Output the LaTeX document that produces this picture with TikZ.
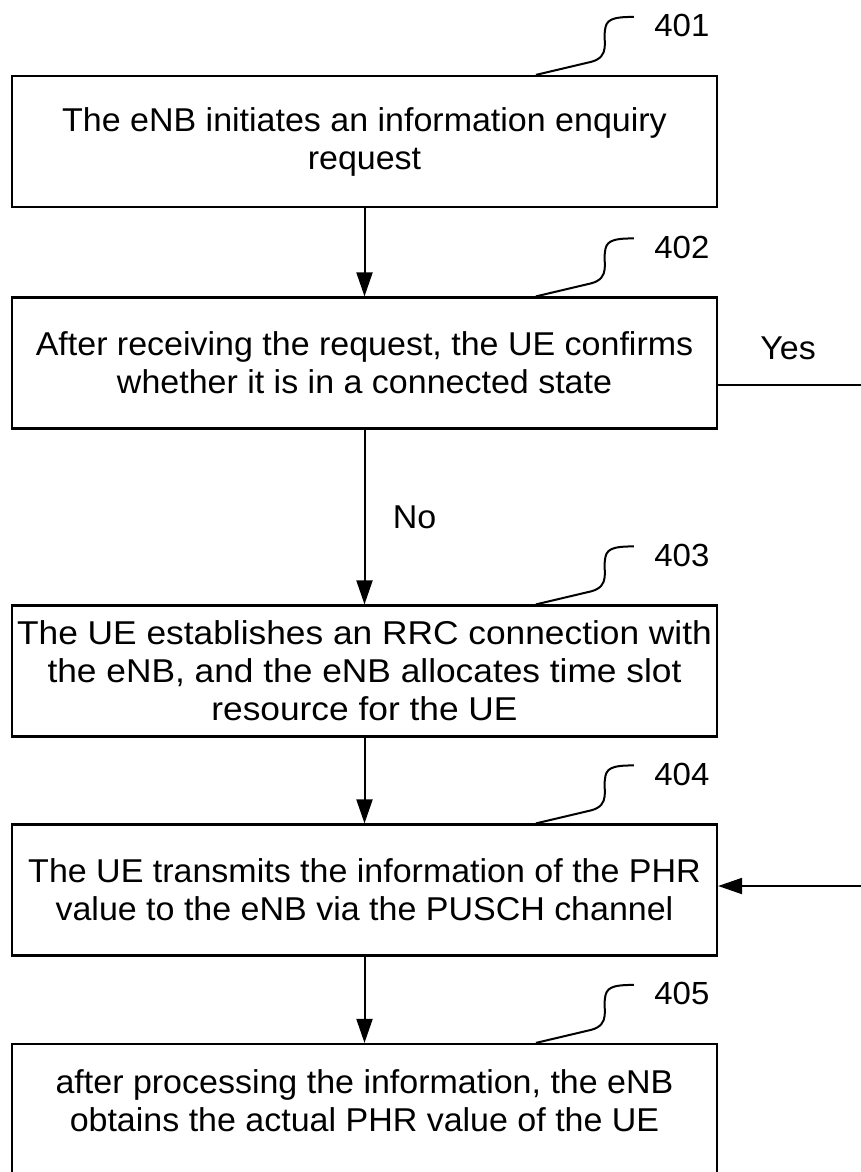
\documentclass[tikz,border=0pt]{standalone}
\usepackage{fontspec}
\setmainfont{Liberation Sans}[FakeStretch=1.03]
\newfontfamily\widerfont{Liberation Sans}[FakeStretch=1.07]
\usetikzlibrary{arrows.meta}

% reference tag with its wavy leader, placed relative to a box's top-left corner
\newcommand\tagleader[3]{%
  \begin{scope}[shift={(#1.north west)}]
    \draw[leader] (525,0) -- (580,-13)
      .. controls (600,-18) and (592,-35) .. (594,-44)
      .. controls (595,-55) and (600,-58) .. (623,-58);
    \node[tag] (#2) at (671,-49) {#3};
  \end{scope}}

\begin{document}
\begin{tikzpicture}[x=1pt,y=-1pt,
  txt/.style={font=\fontsize{33}{38}\selectfont},
  stepbox/.style={draw, line width=2.2pt, minimum width=705pt, minimum height=131pt,
    align=center, inner sep=0pt, txt},
  flow/.style={line width=2pt, -{Triangle[length=24pt,width=16pt]}},
  leader/.style={line width=2pt},
  tag/.style={font=\fontsize{32}{38}\selectfont},
]
\useasboundingbox (0,0) rectangle (861,1172);
\clip (0,0) rectangle (861,1172);

\node[stepbox] (b1) at (364.5,141.5) {The eNB initiates an information enquiry\\request};
\node[stepbox] (b2) at (364.5,363) {After receiving the request, the UE confirms\\whether it is in a connected state};
\node[stepbox, font=\fontsize{33}{38}\widerfont] (b3) at (364.5,671) {The UE establishes an RRC connection with\\the eNB, and the eNB allocates time slot\\resource for the UE};
\node[stepbox] (b4) at (364.5,890) {The UE transmits the information of the PHR\\value to the eNB via the PUSCH channel};
\node[stepbox] (b5) at (364.5,1109.5) {};
\node[txt, align=center, inner sep=0pt, yshift=9pt] (b5text) at (b5.center)
  {after processing the information, the eNB\\obtains the actual PHR value of the UE};

\tagleader{b1}{t1}{401}
\tagleader{b2}{t2}{402}
\tagleader{b3}{t3}{403}
\tagleader{b4}{t4}{404}
\tagleader{b5}{t5}{405}

\draw[flow] (b1) -- (b2);
\draw[flow] (b2) -- node[txt, anchor=west, xshift=24pt] (no) {No} (b3);
\draw[flow] (b3) -- (b4);
\draw[flow] (b4) -- (b5);

% "Yes" branch leaves to the right and returns into step 404
\coordinate (yesy) at (0,385);
\coordinate (backy) at (0,886);
\coordinate (r1) at (872,385);
\coordinate (r2) at (872,886);
\draw[flow] (b2.east |- yesy) -- (r1) -- (r2) -- (b4.east |- backy);
\node[txt] (yes) at (788,348) {Yes};
\end{tikzpicture}
\end{document}
